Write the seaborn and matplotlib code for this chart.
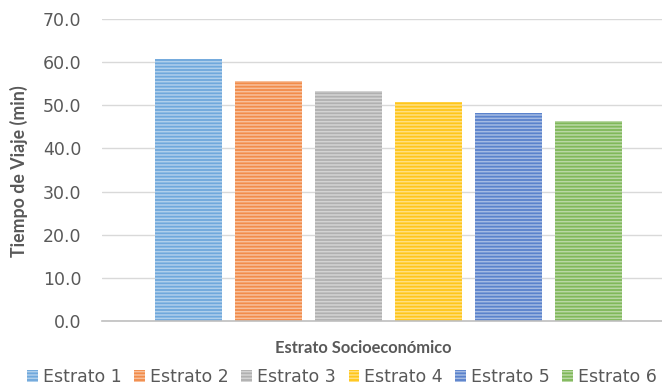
import matplotlib
matplotlib.use("Agg")
import matplotlib.pyplot as plt
import seaborn as sns
import pandas as pd
from matplotlib.patches import Patch

# Average travel time by socioeconomic stratum
estratos = ["Estrato 1", "Estrato 2", "Estrato 3", "Estrato 4", "Estrato 5", "Estrato 6"]
tiempo = [60.7, 55.6, 53.3, 50.7, 48.2, 46.3]
colores = ["#6FA8DC", "#F28C4A", "#B0B0B0", "#FFC61A", "#5A82CC", "#80B85A"]
yticks = [0, 10, 20, 30, 40, 50, 60, 70]

sns.set_theme(style="white")
plt.rcParams["font.family"] = ["DejaVu Sans"]
plt.rcParams["hatch.linewidth"] = 1.1
plt.rcParams["hatch.color"] = "#ffffff"

df = pd.DataFrame({"estrato": estratos, "tiempo": tiempo})

fig = plt.figure(figsize=(6.62, 3.90), dpi=100)
ax = fig.add_axes([102 / 662, 1 - 321 / 390, 560 / 662, 302 / 390])

sns.barplot(data=df, x="estrato", y="tiempo", hue="estrato", palette=colores,
            width=0.8375, legend=False, ax=ax, saturation=1)

for bar in ax.patches:
    bar.set_hatch("-----")
    bar.set_edgecolor((1, 1, 1, 0.45))
    bar.set_linewidth(0)

ax.set_ylim(0, 70)
ax.set_xlim(-1.081, 5.919)
ax.set_yticks(yticks)
ax.set_yticklabels([f"{v:.1f}" for v in yticks], color="#595959", fontsize=12.5)
ax.tick_params(axis="y", length=0, pad=15)
ax.set_xticks([])
ax.yaxis.grid(True, color="#d9d9d9", linewidth=1)
ax.set_axisbelow(True)
for s in ["top", "right", "left"]:
    ax.spines[s].set_visible(False)
ax.spines["bottom"].set_color("#bfbfbf")
ax.spines["bottom"].set_linewidth(1.2)

ax.set_xlabel("")
ax.set_ylabel("")
ylab = fig.text(19 / 662, 1 - 171 / 390, "Tiempo de Viaje (min)", rotation=90,
                ha="center", va="center", fontsize=12, fontweight="bold", color="#595959",
                family=["Lato", "DejaVu Sans"])
xlab = fig.text(363 / 662, 1 - 348 / 390, "Estrato Socioeconómico",
                ha="center", va="center", fontsize=12, fontweight="bold", color="#595959",
                family=["Lato", "DejaVu Sans"])

# scale the axis titles so they span a set length in pixels
renderer = fig.canvas.get_renderer()
ext = ylab.get_window_extent(renderer)
ylab.set_fontsize(ylab.get_fontsize() * 170 / ext.height)
ext = xlab.get_window_extent(renderer)
xlab.set_fontsize(xlab.get_fontsize() * 177 / ext.width)

handles = [Patch(facecolor=c, hatch="-----", edgecolor=(1, 1, 1, 0.45), linewidth=0)
           for c in colores]
fig.legend(handles, estratos, loc="center", bbox_to_anchor=(342 / 662, 1 - 377 / 390),
           ncol=6, frameon=False, fontsize=12.5, handlelength=0.63, handleheight=0.7,
           handletextpad=0.25, columnspacing=0.75, labelcolor="#595959",
           borderaxespad=0, borderpad=0)

fig.savefig("out.png", dpi=100)
